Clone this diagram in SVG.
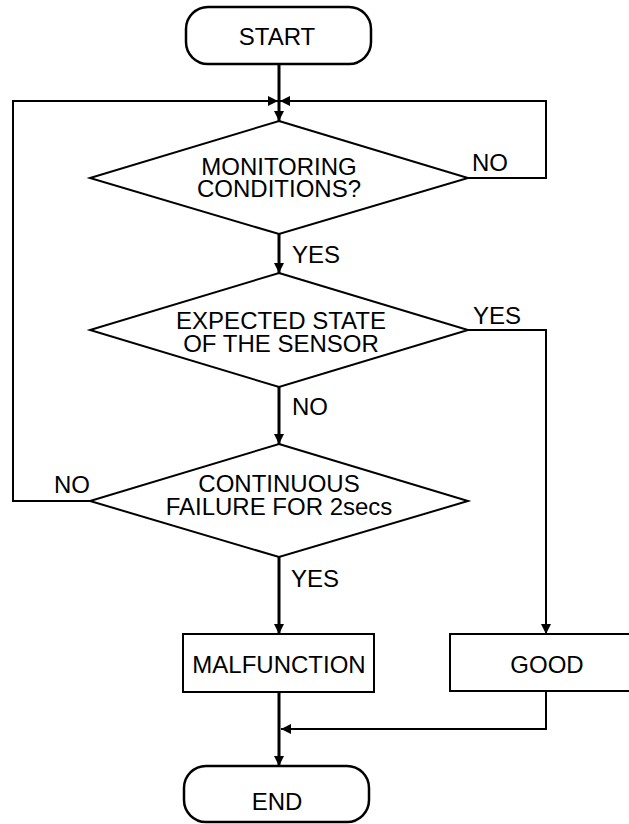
<svg xmlns="http://www.w3.org/2000/svg" width="629" height="824" viewBox="0 0 629 824">
<defs>
<style>
.shape{fill:#fff;stroke:#000;stroke-width:2}
.term{fill:#fff;stroke:#000;stroke-width:2.5}
.thick{fill:none;stroke:#000;stroke-width:3}
.thin{fill:none;stroke:#000;stroke-width:2}
text{font-family:"Liberation Sans",Arial,Helvetica,sans-serif;font-size:24px;fill:#000}
.c{text-anchor:middle}
</style>
<marker id="arr" viewBox="0 0 10 10" refX="10" refY="5" markerWidth="10" markerHeight="11" orient="auto" markerUnits="userSpaceOnUse">
<path d="M0,0 L10,5 L0,10 z" fill="#000"/>
</marker>
</defs>
<rect width="629" height="824" fill="#fff"/>
<g id="connectors">
<path class="thick" d="M279,64 V121" marker-end="url(#arr)"/>
<path class="thin" d="M90,501 H13 V101 H278" marker-end="url(#arr)"/>
<path class="thin" d="M468,178 H546 V101 H280" marker-end="url(#arr)"/>
<path class="thick" d="M279,234 V273" marker-end="url(#arr)"/>
<path class="thin" d="M468,330 H546 V634" marker-end="url(#arr)"/>
<path class="thick" d="M279,387 V444" marker-end="url(#arr)"/>
<path class="thick" d="M279,557 V634" marker-end="url(#arr)"/>
<path class="thick" d="M279,692 V766" marker-end="url(#arr)"/>
<path class="thin" d="M546,691 V729 H281" marker-end="url(#arr)"/>
<text x="292" y="263">YES</text>
<text x="472" y="171">NO</text>
<text x="473" y="324">YES</text>
<text x="292" y="415">NO</text>
<text x="54" y="493">NO</text>
<text x="291" y="587">YES</text>
</g>
<g id="start">
<rect class="term" x="186" y="7" width="185" height="57" rx="22" ry="22"/>
<text class="c" x="277" y="45">START</text>
</g>
<g id="monitoring">
<polygon class="shape" points="279,121 468,178 279,234 90,178"/>
<text class="c" x="279" y="175">MONITORING</text>
<text class="c" x="279" y="197">CONDITIONS?</text>
</g>
<g id="expected">
<polygon class="shape" points="279,273 468,330 279,387 90,330"/>
<text class="c" x="281" y="329">EXPECTED STATE</text>
<text class="c" x="281" y="352">OF THE SENSOR</text>
</g>
<g id="continuous">
<polygon class="shape" points="279,444 468,501 279,557 90,501"/>
<text class="c" x="279" y="492">CONTINUOUS</text>
<text class="c" x="279" y="515">FAILURE FOR 2secs</text>
</g>
<g id="malfunction">
<rect class="shape" x="183" y="634" width="191" height="58"/>
<text class="c" x="279" y="673">MALFUNCTION</text>
</g>
<g id="good">
<rect class="shape" x="450" y="634" width="200" height="57"/>
<text class="c" x="547" y="673">GOOD</text>
</g>
<g id="end">
<rect class="term" x="184" y="766" width="185" height="56" rx="22" ry="22"/>
<text class="c" x="277" y="810">END</text>
</g>
</svg>
